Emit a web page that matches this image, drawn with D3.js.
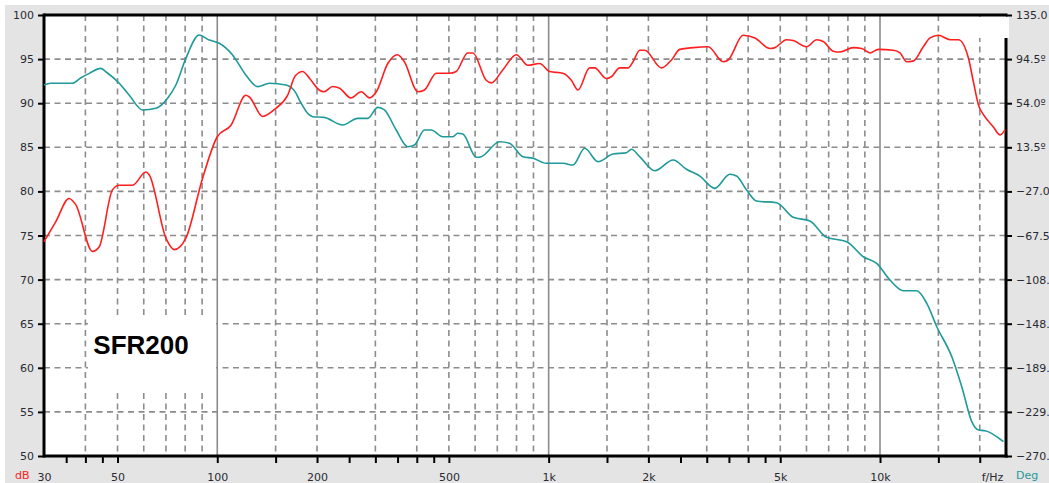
<!DOCTYPE html>
<html>
<head>
<meta charset="utf-8">
<title>SFR200</title>
<script src="https://cdn.jsdelivr.net/npm/d3@7"></script>
<style>
  body { margin: 0; background: #fff; }
  text { font-family: "DejaVu Sans", Verdana, sans-serif; }
</style>
</head>
<body>
<script>
// SPL curve (red)
var splFreq = [30, 32.6, 35.7, 37.4, 42, 44, 48.3, 50.6, 55.5, 60.9, 62.3, 70, 74.2, 80.4, 90.3, 100, 110, 122, 125, 137, 150, 163, 172, 181, 190, 203, 210, 223, 234, 253, 272, 288, 302, 327, 350, 367, 403, 422, 458, 502, 526, 570, 591, 648, 671, 728, 799, 866, 939, 1007, 1104, 1171, 1226, 1330, 1377, 1494, 1546, 1639, 1736, 1798, 1883, 1950, 2190, 2348, 2488, 2729, 3029, 3363, 3481, 3864, 4193, 4653, 4817, 5225, 5472, 6004, 6439, 6743, 7226, 7571, 8305, 8806, 9328, 9883, 10970, 11490, 12040, 12610, 13510, 14160, 15010, 16280, 17240, 18490, 19140, 19820, 20520, 21990, 23040, 23860];
var splDb = [74.3, 76.6, 79.2, 78.5, 73.2, 73.7, 80.2, 80.7, 80.7, 82.2, 81.9, 74.7, 73.4, 74.7, 81.5, 86.2, 87.5, 90.9, 90.7, 88.5, 89.4, 90.9, 93.1, 93.6, 92.8, 91.5, 91.3, 91.9, 91.7, 90.6, 91.3, 90.6, 91.3, 94.5, 95.5, 94.7, 91.3, 91.5, 93.4, 93.4, 93.6, 95.7, 95.7, 92.6, 92.3, 93.8, 95.5, 94.3, 94.5, 93.6, 93.4, 92.6, 91.5, 94.0, 94.0, 92.8, 93.0, 94.0, 94.0, 94.7, 96.0, 96.0, 94.0, 94.9, 96.1, 96.3, 96.4, 94.7, 94.9, 97.7, 97.4, 96.2, 96.3, 97.2, 97.1, 96.4, 97.2, 97.0, 95.9, 95.8, 96.3, 96.2, 95.7, 96.1, 96.0, 95.7, 94.7, 94.8, 96.4, 97.4, 97.7, 97.2, 97.2, 95.1, 92.4, 89.8, 88.7, 87.3, 86.4, 87.0];

// phase curve (teal), right axis in degrees
var phaseFreq = [30, 31.4, 36.5, 38.8, 41.1, 44.5, 46.1, 50.6, 54.2, 59.5, 65.3, 70.8, 75, 80.4, 88.2, 94.6, 101.4, 111.2, 122, 132.4, 143.6, 161.3, 172.9, 177, 189.6, 194.1, 210, 239, 265.4, 284.5, 305, 319.5, 346.7, 375.7, 393.7, 422, 442.3, 479.4, 513.9, 532, 551, 604.7, 626, 711, 762, 836, 897, 984, 1104, 1184, 1285, 1409, 1564, 1717, 1777, 1883, 2090, 2375, 2606, 2859, 3173, 3523, 3691, 3957, 4241, 4875, 5472, 6145, 6902, 7934, 8903, 9772, 10720, 11760, 12910, 13840, 14840, 16470, 17650, 18920, 19820, 20760, 23580];
var phaseDeg = [70.7, 72.3, 72.3, 77.4, 81.4, 86.0, 82.9, 72.3, 61.5, 47.8, 49.3, 58.5, 70.7, 95.2, 116.6, 112.0, 109.0, 98.3, 79.9, 69.2, 72.3, 70.7, 63.1, 56.9, 43.2, 41.6, 41.0, 34.0, 40.1, 40.1, 50.2, 47.8, 29.4, 14.0, 15.6, 29.4, 29.4, 23.2, 23.2, 26.4, 25.7, 4.3, 4.9, 18.6, 17.2, 4.9, 3.4, -1.2, -1.2, -2.8, 12.6, 0.3, 7.3, 8.5, 11.7, 4.9, -8.0, 1.8, -6.7, -12.9, -24.2, -11.3, -12.9, -25.7, -35.8, -37.4, -50.8, -54.2, -69.2, -73.2, -87.0, -93.1, -108.4, -118.2, -118.2, -129.8, -151.3, -178.9, -206.4, -238.5, -246.2, -246.8, -256.9];

var dbTicks = [50, 55, 60, 65, 70, 75, 80, 85, 90, 95, 100];
var dbGrid = [55, 60, 65, 70, 75, 80, 85, 90, 95];
var degTicks = [-270, -229.5, -189, -148.5, -108, -67.5, -27, 13.5, 54, 94.5, 135];
var freqTicks = [35, 40, 45, 50, 100, 150, 200, 250, 300, 350, 400, 450, 500, 1000, 1500, 2000, 2500, 3000, 3500, 4000, 4500, 5000, 10000, 15000, 20000];
var freqLabels = [30, 50, 100, 200, 500, 1000, 2000, 5000, 10000];
var freqLabelText = ["30", "50", "100", "200", "500", "1k", "2k", "5k", "10k"];
var gridDashed = [40, 50, 60, 70, 80, 90, 150, 200, 300, 400, 500, 600, 700, 800, 900, 1500, 2000, 3000, 4000, 5000, 6000, 7000, 8000, 9000, 15000, 20000];
var gridSolid = [100, 1000, 10000];

var W = 1049, H = 483;
var pL = 44, pR = 1006, pT = 15, pB = 456;

var svg = d3.select("body").append("svg")
  .attr("width", W)
  .attr("height", H);

// grey frame
svg.append("rect").attr("x", 5).attr("y", 5).attr("width", W - 5).attr("height", H - 5).attr("fill", "#e4e4e4");
svg.append("rect").attr("x", pL).attr("y", pT).attr("width", pR - pL).attr("height", pB - pT).attr("fill", "#fff");

var x = d3.scaleLog().domain([30, 24000]).range([pL, pR]);
var y = d3.scaleLinear().domain([50, 100]).range([pB, pT]);
var yDeg = d3.scaleLinear().domain([-270, 135]).range([pB, pT]);

var grid = svg.append("g");
grid.selectAll(".h").data(dbGrid).enter().append("line")
  .attr("x1", pL).attr("x2", pR)
  .attr("y1", d => y(d)).attr("y2", d => y(d))
  .attr("stroke", "#8c8c8c").attr("stroke-width", 1.6).attr("stroke-dasharray", "6,4.5");
grid.selectAll(".v").data(gridDashed).enter().append("line")
  .attr("x1", d => x(d)).attr("x2", d => x(d))
  .attr("y1", pT).attr("y2", pB)
  .attr("stroke", "#8c8c8c").attr("stroke-width", 1.6).attr("stroke-dasharray", "6,4.5");
grid.selectAll(".s").data(gridSolid).enter().append("line")
  .attr("x1", d => x(d)).attr("x2", d => x(d))
  .attr("y1", pT).attr("y2", pB)
  .attr("stroke", "#8c8c8c").attr("stroke-width", 1.6);

// white box behind the label, and the blank patch top right
svg.append("rect").attr("x", 88).attr("y", 317).attr("width", 128).attr("height", 74).attr("fill", "#fff");
svg.append("rect").attr("x", 966).attr("y", 17).attr("width", 43).attr("height", 21).attr("fill", "#fff");

// axes
var yAxis = svg.append("g").attr("transform", "translate(" + pL + ",0)")
  .call(d3.axisLeft(y).tickValues(dbTicks).tickSize(6).tickPadding(4));
var degAxis = svg.append("g").attr("transform", "translate(" + pR + ",0)")
  .call(d3.axisRight(yDeg).tickValues(degTicks).tickSize(6).tickPadding(4)
    .tickFormat(d => d == 135 ? "135.0" : d3.format(".1f")(d) + "º"));
var xTicks = svg.append("g").attr("transform", "translate(0," + pB + ")")
  .call(d3.axisBottom(x).tickValues(freqTicks).tickSize(7).tickFormat(""));
var xAxis = svg.append("g").attr("transform", "translate(0," + pB + ")")
  .call(d3.axisBottom(x).tickValues(freqLabels).tickSize(0).tickPadding(17)
    .tickFormat((d, i) => freqLabelText[i]));

[yAxis, degAxis, xTicks, xAxis].forEach(function(g) {
  g.select(".domain").remove();
  g.selectAll("line").attr("stroke", "#000").attr("stroke-width", 2);
  g.selectAll("text").attr("fill", "#2a2a33").style("font-size", "11px").style("font-family", '"DejaVu Sans", Verdana, sans-serif');
});

// thick black border
var frame = svg.append("g").attr("stroke", "#000").attr("stroke-width", 3).attr("fill", "none");
frame.append("line").attr("x1", pL).attr("x2", pL).attr("y1", pT - 1.5).attr("y2", pB + 1.5);
frame.append("line").attr("x1", pL).attr("x2", pR + 1.5).attr("y1", pT).attr("y2", pT);
frame.append("line").attr("x1", pL).attr("x2", pR + 1.5).attr("y1", pB).attr("y2", pB);
frame.append("line").attr("x1", pR).attr("x2", pR).attr("y1", 38).attr("y2", pB + 1.5);

// curves
var spl = splFreq.map((f, i) => [f, splDb[i]]);
var phase = phaseFreq.map((f, i) => [f, phaseDeg[i]]);

svg.append("path").datum(phase)
  .attr("fill", "none").attr("stroke", "#1f9999").attr("stroke-width", 1.6)
  .attr("d", d3.line().x(d => x(d[0])).y(d => yDeg(d[1])).curve(d3.curveMonotoneX));
svg.append("path").datum(spl)
  .attr("fill", "none").attr("stroke", "#ff1f1f").attr("stroke-width", 1.6)
  .attr("d", d3.line().x(d => x(d[0])).y(d => y(d[1])).curve(d3.curveMonotoneX));

// labels
svg.append("text").attr("x", 141).attr("y", 354).attr("text-anchor", "middle")
  .style("font-family", '"Liberation Sans", Arial, sans-serif')
  .style("font-size", "26px").style("font-weight", "bold").attr("fill", "#000").text("SFR200");
svg.append("text").attr("x", x(20000) + 2).attr("y", 481).style("font-size", "11px").attr("fill", "#2a2a33").text("f/Hz");
svg.append("text").attr("x", 15).attr("y", 479).style("font-size", "11px").attr("fill", "#ff2020").text("dB");
svg.append("text").attr("x", 1016).attr("y", 479).style("font-size", "11px").attr("fill", "#1f9999").text("Deg");
</script>
</body>
</html>
